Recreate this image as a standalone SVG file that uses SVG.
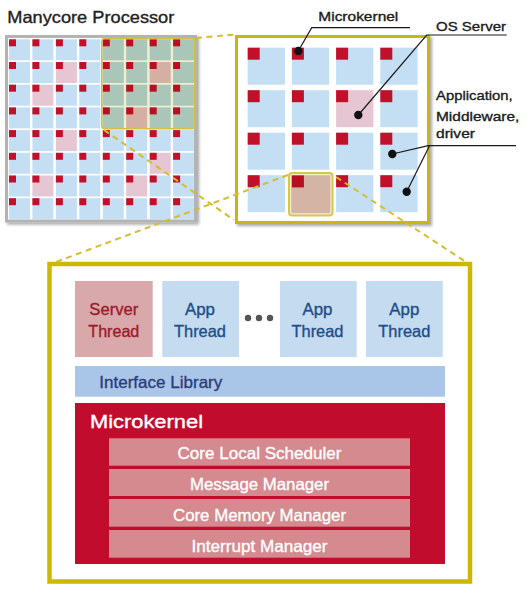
<svg xmlns="http://www.w3.org/2000/svg" xmlns:xlink="http://www.w3.org/1999/xlink" width="527" height="604" viewBox="0 0 527 604">
<style>
text{font-family:"Liberation Sans",Arial,sans-serif;stroke-width:0.35px}
.b{fill:#c4def3}.p{fill:#e7c6d3}.r{fill:#c1112a}
.hb{fill:#a9c6b9}.hp{fill:#d3b0a3}.hr{fill:#b80f22}
.dash{fill:none;stroke:#d2be2c;stroke-width:2;stroke-dasharray:6 4.5}
.lead{fill:none;stroke:#1a1a1a;stroke-width:1.2}
.dot{fill:#111}
.lbl{font-size:13.5px;fill:#1a1a1a;stroke:#1a1a1a}
.app{fill:#c4dbf0}.appt{font-size:16.5px;fill:#1f4d8a;stroke:#1f4d8a;text-anchor:middle}
.srv{fill:#d9a8aa}.srvt{font-size:16.5px;fill:#9c1a2a;stroke:#9c1a2a;text-anchor:middle}
.sub{fill:#d48a8e}.subt{font-size:16.5px;fill:#fff;stroke:#fff;text-anchor:middle}
</style>
<defs>
<filter id="sh" x="-10%" y="-10%" width="125%" height="125%">
<feDropShadow dx="2" dy="2" stdDeviation="1.5" flood-color="#000" flood-opacity="0.35"/>
</filter>
<g id="lc"><rect class="b" width="21" height="21"/><rect class="r" width="7" height="7"/></g>
<g id="lp"><rect class="p" width="21" height="21"/><rect class="r" width="7" height="7"/></g>
<g id="lh"><rect class="hb" width="21" height="21"/><rect class="hr" width="7" height="7"/></g>
<g id="lhp"><rect class="hp" width="21" height="21"/><rect class="hr" width="7" height="7"/></g>
<g id="rc"><rect class="b" width="37.3" height="37"/><rect class="r" width="12" height="12"/></g>
<g id="rp"><rect class="p" width="37.3" height="37"/><rect class="r" width="12" height="12"/></g>
</defs>
<rect width="527" height="604" fill="#fff"/>

<text x="7.3" y="23.3" font-size="16.5" fill="#222" stroke="#222" textLength="167" lengthAdjust="spacingAndGlyphs">Manycore Processor</text>

<g id="manycore">
<rect x="6.5" y="36.5" width="189" height="184.5" fill="#fff" stroke="#b3b3b3" stroke-width="3" filter="url(#sh)"/>
<use href="#lc" x="9" y="39.3"/><use href="#lc" x="32.4" y="39.3"/><use href="#lc" x="55.9" y="39.3"/><use href="#lc" x="79.3" y="39.3"/>
<use href="#lc" x="9" y="62"/><use href="#lc" x="32.4" y="62"/><use href="#lp" x="55.9" y="62"/><use href="#lc" x="79.3" y="62"/>
<use href="#lc" x="9" y="84.7"/><use href="#lp" x="32.4" y="84.7"/><use href="#lc" x="55.9" y="84.7"/><use href="#lc" x="79.3" y="84.7"/>
<use href="#lc" x="9" y="107.4"/><use href="#lc" x="32.4" y="107.4"/><use href="#lc" x="55.9" y="107.4"/><use href="#lc" x="79.3" y="107.4"/>
<use href="#lc" x="9" y="130.1"/><use href="#lc" x="32.4" y="130.1"/><use href="#lp" x="55.9" y="130.1"/><use href="#lc" x="79.3" y="130.1"/>
<use href="#lc" x="102.8" y="130.1"/><use href="#lc" x="126.2" y="130.1"/><use href="#lc" x="149.7" y="130.1"/><use href="#lc" x="173.1" y="130.1"/>
<use href="#lc" x="9" y="152.8"/><use href="#lc" x="32.4" y="152.8"/><use href="#lc" x="55.9" y="152.8"/><use href="#lc" x="79.3" y="152.8"/>
<use href="#lc" x="102.8" y="152.8"/><use href="#lc" x="126.2" y="152.8"/><use href="#lp" x="149.7" y="152.8"/><use href="#lc" x="173.1" y="152.8"/>
<use href="#lc" x="9" y="175.5"/><use href="#lp" x="32.4" y="175.5"/><use href="#lc" x="55.9" y="175.5"/><use href="#lc" x="79.3" y="175.5"/>
<use href="#lc" x="102.8" y="175.5"/><use href="#lp" x="126.2" y="175.5"/><use href="#lc" x="149.7" y="175.5"/><use href="#lc" x="173.1" y="175.5"/>
<use href="#lc" x="9" y="198.2"/><use href="#lc" x="32.4" y="198.2"/><use href="#lc" x="55.9" y="198.2"/><use href="#lc" x="79.3" y="198.2"/>
<use href="#lc" x="102.8" y="198.2"/><use href="#lc" x="126.2" y="198.2"/><use href="#lc" x="149.7" y="198.2"/><use href="#lc" x="173.1" y="198.2"/>
<rect x="101.5" y="38.3" width="93.5" height="90.5" rx="3" fill="#eeeed0"/>
<use href="#lh" x="102.8" y="39.3"/><use href="#lh" x="126.2" y="39.3"/><use href="#lh" x="149.7" y="39.3"/><use href="#lh" x="173.1" y="39.3"/>
<use href="#lh" x="102.8" y="62"/><use href="#lh" x="126.2" y="62"/><use href="#lhp" x="149.7" y="62"/><use href="#lh" x="173.1" y="62"/>
<use href="#lh" x="102.8" y="84.7"/><use href="#lh" x="126.2" y="84.7"/><use href="#lh" x="149.7" y="84.7"/><use href="#lh" x="173.1" y="84.7"/>
<use href="#lh" x="102.8" y="107.4"/><use href="#lhp" x="126.2" y="107.4"/><use href="#lh" x="149.7" y="107.4"/><use href="#lh" x="173.1" y="107.4"/>
<rect x="101.8" y="38.5" width="93" height="90.2" rx="3" fill="none" stroke="#d4c040" stroke-width="1.6"/>
</g>

<g id="zoomed-cores">
<rect x="236.5" y="36.5" width="192" height="186" fill="#fff" stroke="#c9b516" stroke-width="3" filter="url(#sh)"/>
<use href="#rc" x="247.7" y="47.7"/><use href="#rc" x="291.9" y="47.7"/><use href="#rc" x="336.1" y="47.7"/><use href="#rc" x="380.3" y="47.7"/>
<use href="#rc" x="247.7" y="90.2"/><use href="#rc" x="291.9" y="90.2"/><use href="#rp" x="336.1" y="90.2"/><use href="#rc" x="380.3" y="90.2"/>
<use href="#rc" x="247.7" y="132.7"/><use href="#rc" x="291.9" y="132.7"/><use href="#rc" x="336.1" y="132.7"/><use href="#rc" x="380.3" y="132.7"/>
<use href="#rc" x="247.7" y="175.2"/><use href="#rc" x="336.1" y="175.2"/><use href="#rc" x="380.3" y="175.2"/>
<g id="selected-core">
<rect x="289" y="173" width="43.5" height="42.5" rx="3" fill="#d4b4a4" stroke="#d6c650" stroke-width="2"/>
<rect x="290.6" y="174.6" width="40.3" height="39.3" rx="2" fill="none" stroke="#f2eec6" stroke-width="1.2"/>
<rect x="291.9" y="175.4" width="12" height="12" fill="#b50f20"/>
</g>
</g>

<g id="core-detail">
<rect x="49.5" y="264" width="420.5" height="317.5" fill="#fff" stroke="#cdb800" stroke-width="4.5"/>
<g id="server-thread">
<rect class="srv" x="75" y="281" width="77.7" height="76"/>
<text class="srvt" x="113.8" y="315" textLength="49" lengthAdjust="spacingAndGlyphs">Server</text>
<text class="srvt" x="113.8" y="336.7" textLength="51" lengthAdjust="spacingAndGlyphs">Thread</text>
</g>
<g id="app-thread-1">
<rect class="app" x="162.3" y="281" width="76.7" height="76"/>
<text class="appt" x="200" y="315" textLength="30" lengthAdjust="spacingAndGlyphs">App</text>
<text class="appt" x="200" y="336.7" textLength="52" lengthAdjust="spacingAndGlyphs">Thread</text>
</g>
<g id="ellipsis">
<circle cx="248" cy="318" r="3.2" fill="#555"/><circle cx="259" cy="318" r="3.2" fill="#555"/><circle cx="270" cy="318" r="3.2" fill="#555"/>
</g>
<g id="app-thread-2">
<rect class="app" x="280" y="281" width="76.7" height="76"/>
<text class="appt" x="317.5" y="315" textLength="30" lengthAdjust="spacingAndGlyphs">App</text>
<text class="appt" x="317.5" y="336.7" textLength="52" lengthAdjust="spacingAndGlyphs">Thread</text>
</g>
<g id="app-thread-3">
<rect class="app" x="366" y="281" width="76.7" height="76"/>
<text class="appt" x="404.3" y="315" textLength="30" lengthAdjust="spacingAndGlyphs">App</text>
<text class="appt" x="404.3" y="336.7" textLength="52" lengthAdjust="spacingAndGlyphs">Thread</text>
</g>
<g id="interface-library">
<rect x="75" y="366" width="370" height="30.7" fill="#a9c6e8"/>
<text x="99.3" y="387.7" font-size="16.5" fill="#2c3d7c" stroke="#2c3d7c" textLength="123" lengthAdjust="spacingAndGlyphs">Interface Library</text>
</g>
<g id="microkernel">
<rect x="75" y="403" width="370" height="161" fill="#c20c2e"/>
<text x="90" y="427.5" font-size="18" fill="#fff" stroke="#fff" textLength="113" lengthAdjust="spacingAndGlyphs">Microkernel</text>
<g id="core-local-scheduler"><rect class="sub" x="109" y="438.3" width="301" height="27.4"/><text class="subt" x="259.5" y="459.3" textLength="164" lengthAdjust="spacingAndGlyphs">Core Local Scheduler</text></g>
<g id="message-manager"><rect class="sub" x="109" y="469" width="301" height="27"/><text class="subt" x="259.5" y="490" textLength="139" lengthAdjust="spacingAndGlyphs">Message Manager</text></g>
<g id="core-memory-manager"><rect class="sub" x="109" y="499" width="301" height="27.7"/><text class="subt" x="259.5" y="520.7" textLength="173" lengthAdjust="spacingAndGlyphs">Core Memory Manager</text></g>
<g id="interrupt-manager"><rect class="sub" x="109" y="530" width="301" height="27.7"/><text class="subt" x="259.5" y="551.7" textLength="136" lengthAdjust="spacingAndGlyphs">Interrupt Manager</text></g>
</g>
</g>

<g id="connectors">
<line class="dash" x1="196" y1="38" x2="235" y2="34.5"/>
<line class="dash" x1="104" y1="130" x2="234" y2="220"/>
<line class="dash" x1="288" y1="175" x2="56" y2="262"/>
<line class="dash" x1="336" y1="177" x2="466" y2="262"/>
<polyline class="lead" points="410,27.7 311.7,27.7 298.3,51"/>
<circle class="dot" cx="298.3" cy="51" r="4.2"/>
<polyline class="lead" points="506.7,35 426.7,35 358.3,115"/>
<circle class="dot" cx="358.3" cy="115" r="4.2"/>
<polyline class="lead" points="516,145.7 428.3,145.7 392.3,154"/>
<polyline class="lead" points="429.5,145.7 406.7,191.7"/>
<circle class="dot" cx="392.3" cy="154" r="4.2"/>
<circle class="dot" cx="406.7" cy="191.7" r="4.2"/>
</g>

<g id="labels">
<text class="lbl" x="318.3" y="20.7" textLength="80" lengthAdjust="spacingAndGlyphs">Microkernel</text>
<text class="lbl" x="436" y="30.7" textLength="70" lengthAdjust="spacingAndGlyphs">OS Server</text>
<text class="lbl" x="436" y="100" textLength="76.7" lengthAdjust="spacingAndGlyphs">Application,</text>
<text class="lbl" x="436" y="120.7" textLength="83.3" lengthAdjust="spacingAndGlyphs">Middleware,</text>
<text class="lbl" x="436" y="138.3" textLength="39" lengthAdjust="spacingAndGlyphs">driver</text>
</g>
</svg>
